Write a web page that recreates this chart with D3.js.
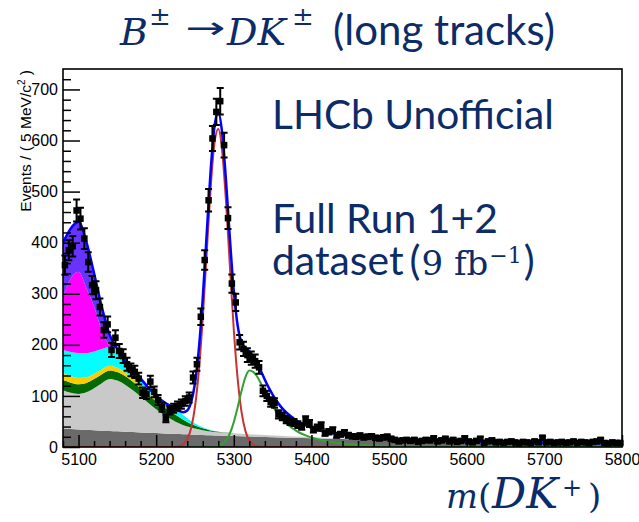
<!DOCTYPE html>
<html><head><meta charset="utf-8">
<script src="https://cdn.jsdelivr.net/npm/d3@7"></script>
<style>html,body{margin:0;padding:0;background:#fff} svg{display:block}</style>
</head><body>
<svg id="c" width="639" height="522"></svg>
<script>
// ---------------- DATA ----------------
const binLow = 5080, binWidth = 5;
const counts = [
356,385,393,463,447,408,362,317,307,274,
229,240,190,214,188,178,162,151,147,134,
106,104,128,108,92,78,56,72,76,80,
84,90,97,136,162,255,366,483,604,656,
677,591,448,320,283,205,192,180,174,168,
156,110,100,88,86,64,60,54,50,48,
44,40,53,46,34,38,42,27,30,33,
23,25,28,23,21,20,22,19,20,21,
18,17,19,20,16,14,11,13,14,12,
14,10,12,14,13,17,11,13,16,11,
14,10,12,17,11,9,12,16,8,11,
13,9,10,8,10,11,9,7,10,9,
8,11,9,18,9,10,8,9,10,8,
9,11,8,10,9,8,10,11,14,8,
7,9,8,8];

// stacked background components
const stackMass = [5080,5090,5100,5110,5120,5130,5140,5150,5160,5170,5180,5190,5200,5210,5220,5230,5240,5250,5260,5270,5280,5290,5300,
  5320,5340,5360,5380,5400,5420,5440,5460,5480,5500,
  5550,5600,5650,5700,5750,5800];
const combBkg = [36,35.2,34.4,33.6,32.8,32.0,31.3,30.6,29.9,29.2,28.5,27.8,27.2,26.6,26.0,25.4,24.8,24.2,23.7,23.1,22.6,22.1,21.6,
  20.6,19.7,18.8,17.9,17.1,16.3,15.6,14.9,14.2,13.6,
  12.1,10.8,9.7,8.7,7.8,7.0];
const partRecoGrey = [75,70.8,69.6,73.4,82.2,93,101.7,99.4,92.1,81.8,70.5,58.2,46.8,36.4,28,20.6,15.2,11.8,9.3,7.4,6.4,5.7,5.2,
  4.4,3.8,3.2,2.6,2.1,1.6,1.2,0.9,0.6,0.4,
  0.2,0.1,0,0,0,0];
const greenBand = [20,20,19,18.5,18,17.5,17,17,17,16.5,16,16,15.5,15,14,12,9,6,3.5,2,1,0.5,0.2,
  0,0,0,0,0,0,0,0,0,0, 0,0,0,0,0,0];
const orangeBand = [14,13,12,11,10,9.5,9,8,7,6,5,4,3,2,1.2,0.6,0.2,0,0,0,0,0,0,
  0,0,0,0,0,0,0,0,0,0, 0,0,0,0,0,0];
const cyanBand = [45,47,49,47.5,44,40,37,37,24,18.5,14,10,7.5,8,10,10,7,4,2,0.8,0,0,0,
  0,0,0,0,0,0,0,0,0,0, 0,0,0,0,0,0];
const magentaBand = [104,144,159,128,88,36,3,0,0,0,0,0,0,0,0,0,0,0,0,0,0,0,0,
  0,0,0,0,0,0,0,0,0,0, 0,0,0,0,0,0];
const violetBand = [106,98,98,90,65,46,21,0,0,0,0,0,0,0,0,0,0,0,0,0,0,0,0,
  0,0,0,0,0,0,0,0,0,0, 0,0,0,0,0,0];

// fit curves
const fitMass = [5080,5090,5100,5110,5120,5130,5140,5150,5160,5170,5180,5190,5200,5210,5220,
  5225,5230,5235,5240,5245,5250,5255,5260,5265,5270,5275,5280,5285,5290,5295,5300,5305,5310,5315,5320,5325,5330,5335,5340,5345,5350,
  5360,5380,5400,5420,5440,5460,5480,5500,
  5550,5600,5650,5700,5750,5800];
const totalFit = [400,428,441,402,340,274,220,192,170,152,134,116,100,88,79.4,
  74.8,70.4,68,71.5,87.8,124.8,192.3,291.1,414.7,536.9,626.1,654.7,614.4,520.6,407,305,237.3,204.2,193.4,187.2,176.1,163.7,148.4,131.6,116.1,102.7,
  80,52.5,37.7,28.9,23.8,20.1,17.5,15.7,
  12.8,11,9.7,8.7,7.8,7];
const signalFit = [0,0,0,0,0,0,0,0,0,0,0,0,0,0,0.2,
  0.85,1.8,5.6,15.3,36.7,78.8,149.6,252.6,378,503.3,593.7,622.6,579.8,479.4,352.7,229.3,132.8,68.2,31.1,12.6,4.5,1.5,0.45,0.1,0,0,
  0,0,0,0,0,0,0,0,
  0,0,0,0,0,0];
const misIdFit = [0,0,0,0,0,0,0,0,0,0,0,0,0,0,0,
  0,0,0,0,0,0,0,0,0.1,0.3,0.7,2.1,5.5,12.9,26.7,48.7,78,110,136.8,149.6,147,138,124,108,93,80,
  58,32,18.5,11,7,4.3,2.7,1.7,
  0.5,0.1,0,0,0,0];

const yMajor = [0,100,200,300,400,500,600,700];
const xMajor = [5100,5200,5300,5400,5500,5600,5700,5800];

// ---------------- CHART ----------------
const svg = d3.select('#c');
const L = 63, R = 622, T = 69, B = 447;
const x = d3.scaleLinear().domain([5080, 5800]).range([L, R]);
const y = d3.scaleLinear().domain([0, 740]).range([B, T]);
const navy = '#0c2c69';

svg.append('defs').append('clipPath').attr('id','clip')
  .append('rect').attr('x',L).attr('y',T).attr('width',R-L).attr('height',B-T);
const plot = svg.append('g').attr('clip-path','url(#clip)');

const keys = ['comb','partReco','green','orange','cyan','magenta','violet'];
const comp = {comb:combBkg, partReco:partRecoGrey, green:greenBand, orange:orangeBand,
  cyan:cyanBand, magenta:magentaBand, violet:violetBand};
const fills = {comb:'#6a6a6a', partReco:'#c9c9c9', green:'#036a03', orange:'#ffcc00',
  cyan:'#00ffff', magenta:'#ff00ff', violet:'#6633ff'};
const rows = stackMass.map((m,i)=>{const r={m}; keys.forEach(k=>r[k]=comp[k][i]); return r;});
const layers = d3.stack().keys(keys)(rows);
const area = d3.area().x(d=>x(d.data.m)).y0(d=>y(d[0])).y1(d=>y(d[1])).curve(d3.curveMonotoneX);
plot.selectAll('path.layer').data(layers).join('path')
  .attr('class','layer').attr('d',area).attr('fill',d=>fills[d.key]).attr('stroke','none');

const fitRows = fitMass.map((m,i)=>({m, tot:totalFit[i], sig:signalFit[i], mis:misIdFit[i]}));
const line = key => d3.line().x(d=>x(d.m)).y(d=>y(d[key])).curve(d3.curveMonotoneX);
plot.append('path').attr('d', line('sig')(fitRows)).attr('fill','none').attr('stroke','#c83232').attr('stroke-width',2);
plot.append('path').attr('d', line('mis').defined(d=>d.m>=5250)(fitRows)).attr('fill','none').attr('stroke','#33a033').attr('stroke-width',2);
plot.append('path').attr('d', line('tot')(fitRows)).attr('fill','none').attr('stroke','#0000ff').attr('stroke-width',2.5);

// data points
const pts = counts.map((n,i)=>({m: binLow + binWidth*(i+0.5), n, e: Math.sqrt(n)}));
const dg = svg.append('g');
const cap = 3.5;
dg.selectAll('path.err').data(pts).join('path').attr('class','err')
  .attr('d', d=>{const xx=x(d.m), y1=y(d.n+d.e), y0=y(Math.max(0,d.n-d.e));
     return `M${xx},${y0}V${y1}M${xx-cap},${y1}H${xx+cap}M${xx-cap},${y0}H${xx+cap}`;})
  .attr('stroke','#000').attr('stroke-width',2).attr('fill','none');
const ms = 6.5;
dg.selectAll('rect.pt').data(pts).join('rect').attr('class','pt')
  .attr('x',d=>x(d.m)-ms/2).attr('y',d=>y(d.n)-ms/2).attr('width',ms).attr('height',ms).attr('fill','#000');

// axes
const axFont = 'Liberation Sans, Arial, Helvetica, sans-serif';
const xMinor = d3.range(5080, 5801, 20).filter(v=>v%100!==0);
const yMinor = d3.range(0, 721, 20).filter(v=>v%100!==0);
const gx = svg.append('g').attr('transform',`translate(0,${B})`);
gx.call(d3.axisBottom(x).tickValues(xMajor).tickSize(-12).tickPadding(6.5).tickFormat(d3.format('d')));
const gx2 = svg.append('g').attr('transform',`translate(0,${B})`);
gx2.call(d3.axisBottom(x).tickValues(xMinor).tickSize(-6).tickFormat(''));
const gy = svg.append('g').attr('transform',`translate(${L},0)`);
gy.call(d3.axisLeft(y).tickValues(yMajor).tickSize(-17).tickPadding(5).tickFormat(d3.format('d')));
const gy2 = svg.append('g').attr('transform',`translate(${L},0)`);
gy2.call(d3.axisLeft(y).tickValues(yMinor).tickSize(-8).tickFormat(''));
[gx,gx2,gy,gy2].forEach(g=>{
  g.select('.domain').remove();
  g.selectAll('line').attr('stroke','#000').attr('stroke-width',1.5);
  g.selectAll('text').attr('font-family',axFont).attr('font-size',16).attr('fill','#000');
});

svg.append('rect').attr('x',L).attr('y',T).attr('width',R-L).attr('height',B-T)
  .attr('fill','none').attr('stroke','#000').attr('stroke-width',1.6);

// y-axis title
const yt = svg.append('text').attr('transform','translate(31,70) rotate(-90)')
  .attr('text-anchor','end').attr('font-family',axFont).attr('font-size',15.5).attr('fill','#000');
yt.append('tspan').text('Events / ( 5 MeV/c');
yt.append('tspan').attr('font-size',10).attr('dy',-6).text('2');
yt.append('tspan').attr('dy',6).text(' )');

// text helpers
function piece(str, px, py, size, family, opts={}) {
  const t = svg.append('text').attr('x',px).attr('y',py).attr('font-family',family)
    .attr('font-size',size).attr('fill',navy).text(str);
  if (opts.italic) t.attr('font-style','italic');
  if (opts.w) { const cur = t.node().getComputedTextLength(); if (cur>0) t.attr('font-size', size*opts.w/cur); }
  return t;
}
const wOf = t => t.node().getComputedTextLength();
const serif = 'DejaVu Serif, serif';
const sans = 'Lato, Open Sans, sans-serif';

// title
piece('B', 120, 45, 38, serif, {italic:true});
piece('\u00B1', 149, 25, 26, serif);
svg.append('text').attr('transform','translate(185,38) scale(1.6,1)')
  .attr('font-family','DejaVu Sans, sans-serif').attr('font-size',30).attr('fill',navy).text('\u2192');
piece('DK', 227, 45, 38, serif, {italic:true});
piece('\u00B1', 292, 25, 26, serif);
piece('(long tracks)', 333, 45, 42, sans, {w:222});

// annotation
piece('LHCb Unofficial', 272, 129, 44, sans, {w:282});
const fr = piece('Full Run 1+2', 272, 233, 44, sans, {w:226});
const fs = +fr.attr('font-size');
let cx = 272;
const ds = piece('dataset', cx, 275, fs, sans); cx += wOf(ds) + 6;
const lp = piece('(', cx, 275, fs, sans); cx += wOf(lp) + 1;
const nf = piece('9 fb', cx, 275, 34, serif); cx += wOf(nf) + 1;
const sp = piece('\u22121', cx, 263, 22, serif); cx += wOf(sp) + 2;
piece(')', cx, 275, fs, sans);

// x-axis title
piece('m', 446, 508, 34, serif, {italic:true, w:32});
piece('(', 478, 508, 34, serif);
piece('DK', 492, 508, 34, serif, {italic:true, w:66});
piece('+', 562, 496, 24, serif);
piece(')', 588, 508, 34, serif);
</script>
</body></html>
